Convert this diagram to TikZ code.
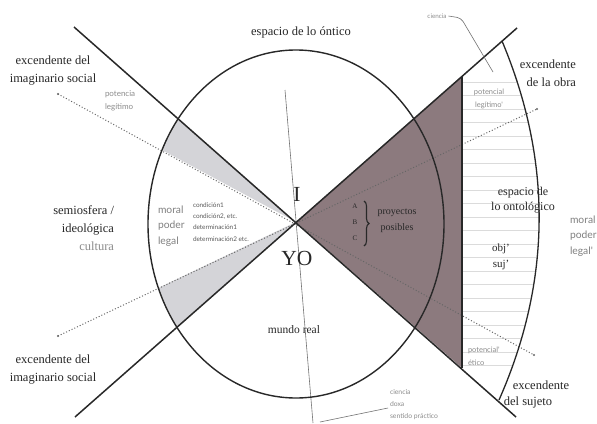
\documentclass[tikz,border=0pt]{standalone}
\usepackage{fontspec}
\setmainfont{Liberation Serif}
\newfontfamily\lsans{Lato}
\usetikzlibrary{decorations.pathreplacing}
\definecolor{mauve}{RGB}{140,122,126}
\definecolor{wedge}{RGB}{212,212,216}
\definecolor{ink}{RGB}{40,40,40}
\begin{document}
\begin{tikzpicture}[x=1pt,y=-1pt,
  every node/.style={inner sep=0pt,outer sep=0pt},
  big/.style={font=\fontsize{12.5}{18}\selectfont,text=ink,align=center},
  mid/.style={font=\fontsize{10}{16}\selectfont,text=ink,align=center},
  huge/.style={font=\fontsize{21.5}{22}\selectfont,text=ink},
  gsans/.style={font=\lsans\fontsize{10.3}{15.5}\selectfont,text=black!50,align=left},
  tiny/.style={font=\lsans\fontsize{6.4}{11.3}\selectfont,text=black!65,align=left},
  small/.style={font=\lsans\fontsize{7.5}{13}\selectfont,text=black!45,align=left},
  mainline/.style={draw=ink,line width=1.5pt},
  dotline/.style={draw=black!60,line width=1pt,dash pattern=on 1pt off 2pt},
  thin/.style={draw=black!55,line width=0.6pt},
  hatch/.style={draw=black!14,line width=0.7pt}
]
\useasboundingbox (0,0) rectangle (597,423);
\fill[white] (0,0) rectangle (597,423);
% key points
\coordinate (O) at (296,222);
\coordinate (L1a) at (74,27);
\coordinate (L1b) at (516,417);
\coordinate (L2a) at (75,417);
\coordinate (L2b) at (517,28);
\coordinate (D1a) at (58,94);
\coordinate (D1b) at (534,355);
\coordinate (D2a) at (58,336);
\coordinate (D2b) at (537,109);
\coordinate (Vt) at (462,76);
\coordinate (Vb) at (462,368);
\coordinate (At) at (502,41);
\coordinate (Ab) at (499,400);
\coordinate (Tt) at (285,90);
\coordinate (Tb) at (313,423);
% dark triangle
\fill[mauve] (O) -- (Vt) -- (Vb) -- cycle;
% light wedges clipped by ellipse
\begin{scope}
\clip (296,224) ellipse [x radius=148, y radius=174];
\fill[wedge] (O) -- (L1a) -- (D1a) -- cycle;
\fill[wedge] (O) -- (L2a) -- (D2a) -- cycle;
\end{scope}
% hatching
\begin{scope}
\clip (Vt) -- (At) .. controls (552,160) and (552,280) .. (Ab) -- (Vb) -- cycle;
\foreach \y in {82,95.5,...,370} \draw[hatch] (460,\y) -- (560,\y);
\end{scope}
% thin lines
\draw[thin] (Tt) -- (Tb);
% dotted lines
\draw[dotline] (D1a) -- (D1b);
\draw[dotline] (D2a) -- (D2b);
\foreach \p in {D1a,D1b,D2a,D2b} \fill[black!60] (\p) circle (1.1);
% ellipse
\draw[ink,line width=1.4pt] (296,224) ellipse [x radius=148, y radius=174];
% X lines
\draw[mainline] (L1a) -- (L1b);
\draw[mainline] (L2a) -- (L2b);
% vertical and right arc
\draw[mainline,line width=1.4pt] (Vt) -- (Vb);
\draw[ink,line width=1.3pt] (At) .. controls (552,160) and (552,280) .. (Ab);
% brace
\draw[ink,line width=1.1pt,decorate,decoration={brace,amplitude=5pt}] (364,201) -- (364,246);

% texts
\node[big] (onti) at (301,32) {espacio de lo óntico};
\node[big] (exis1) at (53,71) {excendente del\\imaginario social};
\node[big] (exis2) at (53,370) {excendente del\\imaginario social};
\node[big,align=right,anchor=east] (semio) at (114,228) {semiosfera /\\ideológica\\\textcolor{black!45}{cultura}};
\node[gsans,anchor=west] (mpl) at (158,226) {moral\\poder\\legal};
\node[tiny,anchor=west] (cond) at (193,222) {condición1\\condición2, etc.\\determinación1\\determinación2 etc.};
\node[huge] (I) at (297,194) {I};
\node[huge] (YO) at (297,258) {YO};
\node[font=\fontsize{7}{8}\selectfont,text=ink] (A) at (355,206) {A};
\node[font=\fontsize{7}{8}\selectfont,text=ink] (B) at (355,222) {B};
\node[font=\fontsize{7}{8}\selectfont,text=ink] (C) at (355,238) {C};
\node[mid] (proy) at (397,221) {proyectos\\posibles};
\node[big,font=\fontsize{12}{15}\selectfont] (onto) at (523,200) {espacio de\\lo ontológico};
\node[mid,font=\fontsize{11}{16}\selectfont] (objsuj) at (501,257) {obj'\\suj'};
\node[small,align=center] (potl) at (489,99) {potencial\\legítimo'};
\node[small,anchor=west] (pote) at (468,356) {potencial'\\ético};
\node[small,font=\lsans\fontsize{8}{13}\selectfont,anchor=west] (potul) at (105,101) {potencia\\legítimo};
\node[big,align=right,anchor=east] (exobra) at (576,73) {excendente\\de la obra};
\node[big] (exsuj1) at (541,385) {excendente};
\node[big] (exsuj2) at (528,402) {del sujeto};
\node[big,font=\fontsize{11.5}{14}\selectfont] (mundo) at (294,330) {mundo real};
\node[gsans,anchor=west] (mplr) at (570,236) {moral\\poder\\legal'};
\node[small,font=\lsans\fontsize{6.3}{8}\selectfont] (cien) at (437,16) {ciencia};
\node[small,font=\lsans\fontsize{6.8}{12}\selectfont,anchor=west] (cds) at (390,405) {ciencia\\doxa\\sentido práctico};
% leader lines
\coordinate (c1) at (461,18);
\coordinate (c2) at (493,72);
\draw[thin,rounded corners=4pt] (cien.east) ++(2,0) -- (c1) -- (c2);
\coordinate (b1) at (320,422);
\coordinate (b2) at (388,408);
\draw[thin] (b1) -- (b2);
\end{tikzpicture}
\end{document}
